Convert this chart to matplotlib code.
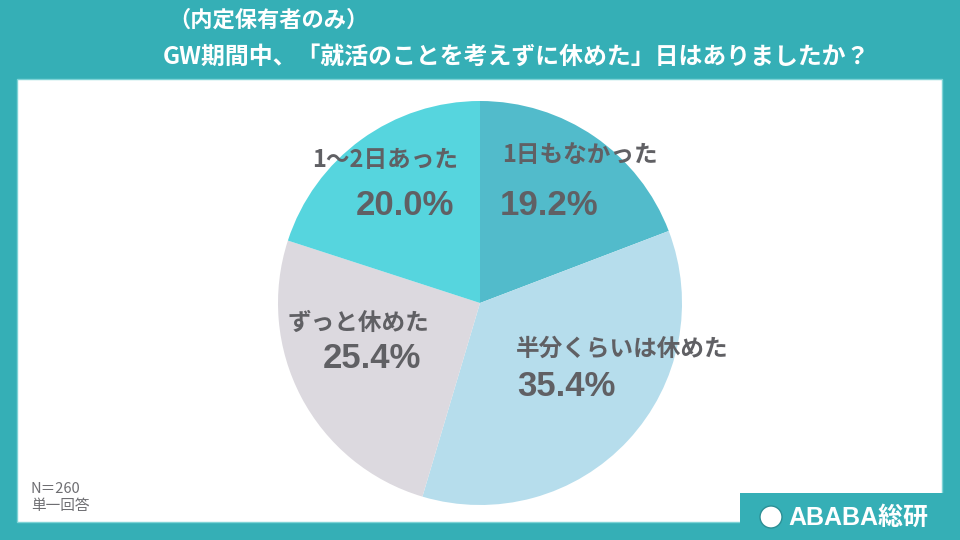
import matplotlib
matplotlib.use("Agg")
import matplotlib.pyplot as plt
from matplotlib.patches import Rectangle, Circle

plt.rcParams['font.family'] = ['Noto Sans CJK JP', 'DejaVu Sans']

# Data
categories = ["1日もなかった", "半分くらいは休めた", "ずっと休めた", "1～2日あった"]
values = [19.2, 35.4, 25.4, 20.0]
colors = ["#52BBCB", "#B6DDEC", "#DCD9DF", "#56D5DE"]
title_line1 = "（内定保有者のみ）"
title_line2 = "GW期間中、「就活のことを考えずに休めた」日はありましたか？"
note_lines = ["N＝260", "単一回答"]
brand = "ABABA総研"

W, H = 960, 540
fig = plt.figure(figsize=(W / 100, H / 100), dpi=100)
fig.patch.set_facecolor("#35AFB6")

# background layer in pixel coords
bg = fig.add_axes([0, 0, 1, 1])
bg.set_xlim(0, W)
bg.set_ylim(H, 0)
bg.axis("off")
bg.add_patch(Rectangle((17, 79), 942 - 17, 522 - 79, facecolor="white", edgecolor="#7FD3D6", lw=1))
bg.add_patch(Rectangle((740, 493), W - 740, H - 493, facecolor="#35AFB6", edgecolor="none"))

bg.text(168, 20, title_line1, color="white", fontsize=16, fontweight="bold", va="center", ha="left")
bg.text(163, 57, title_line2, color="white", fontsize=17.2, fontweight="bold", va="center", ha="left")

bg.text(31, 489, note_lines[0], color="#6E6E72", fontsize=10.5, va="center", ha="left")
bg.text(31, 506, note_lines[1], color="#6E6E72", fontsize=10.5, va="center", ha="left")

# logo
bg.add_patch(Circle((771, 517), 11, facecolor="white", edgecolor="#2B8F95", lw=1))
bg.text(788, 518, brand, color="white", fontsize=18, fontweight="bold",
        va="center", ha="left", family=["Liberation Sans", "Noto Sans CJK JP"])

# pie
cx, cy, r = 480, 303, 202
ax = fig.add_axes([(cx - r) / W, (H - cy - r) / H, 2 * r / W, 2 * r / H])
ax.pie(values, colors=colors, startangle=90, counterclock=False,
       wedgeprops=dict(linewidth=0), radius=1)
ax.set_xlim(-1, 1)
ax.set_ylim(-1, 1)
ax.set_aspect("equal")
ax.axis("off")

# label placement (pixel positions of label name / percent)
label_pos = [((580, 155), (549, 205)),
             ((622, 349), (566, 386)),
             ((358, 323), (372, 359)),
             ((385, 160), (405, 205))]
txt_color = "#606064"
for name, val, ((nx, ny), (px, py)) in zip(categories, values, label_pos):
    ax.text((nx - cx) / r, (cy - ny) / r, name, color=txt_color, fontsize=17,
            fontweight="bold", ha="center", va="center")
    ax.text((px - cx) / r, (cy - py) / r, f"{val:.1f}%", color=txt_color, fontsize=25,
            fontweight="bold", ha="center", va="center",
            family=["Liberation Sans", "DejaVu Sans"])

fig.savefig("out.png", dpi=100, facecolor=fig.get_facecolor())
